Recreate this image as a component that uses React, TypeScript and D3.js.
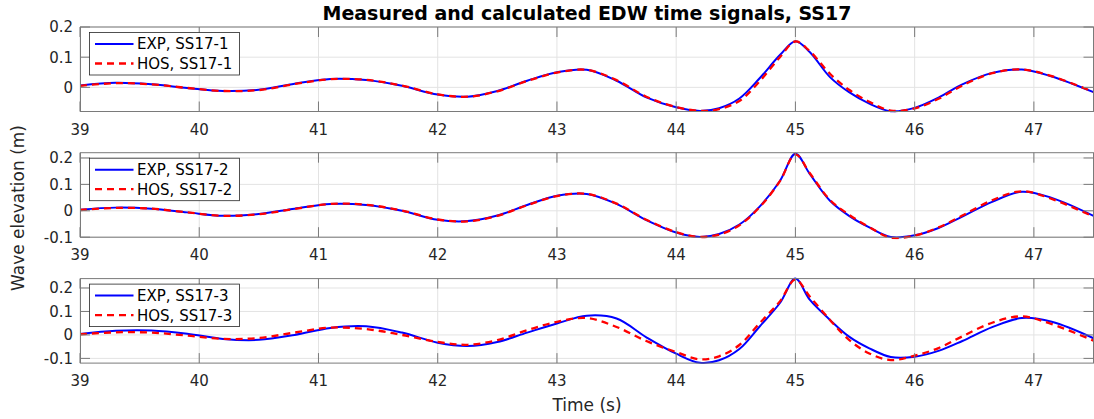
import React, { useEffect, useRef } from 'react';
import * as d3 from 'd3';

// sample times (s), shared by every series
const time = [39, 39.3, 39.6, 39.9, 40.2, 40.5, 40.8, 41.1, 41.4, 41.7, 42, 42.25, 42.5, 42.75, 43, 43.25, 43.5, 43.75, 44, 44.2, 44.36, 44.53, 44.7, 44.87, 45, 45.12, 45.29, 45.45, 45.62, 45.8, 46, 46.2, 46.4, 46.65, 46.9, 47.15, 47.5];

const exp1 = [0.006, 0.015, 0.01, -0.002, -0.012, -0.008, 0.012, 0.028, 0.024, 0.005, -0.024, -0.031, -0.012, 0.022, 0.05, 0.058, 0.022, -0.033, -0.066, -0.078, -0.069, -0.037, 0.03, 0.107, 0.153, 0.117, 0.034, -0.016, -0.054, -0.079, -0.068, -0.034, 0.01, 0.048, 0.059, 0.036, -0.016];
const hos1 = [0.005, 0.014, 0.01, -0.002, -0.012, -0.009, 0.011, 0.027, 0.025, 0.006, -0.023, -0.031, -0.013, 0.021, 0.049, 0.058, 0.024, -0.031, -0.065, -0.078, -0.072, -0.045, 0.02, 0.1, 0.152, 0.12, 0.045, -0.008, -0.048, -0.077, -0.07, -0.038, 0.006, 0.047, 0.059, 0.037, -0.015];

const exp2 = [0.004, 0.012, 0.008, -0.006, -0.019, -0.012, 0.008, 0.026, 0.022, 0.0, -0.034, -0.039, -0.018, 0.022, 0.057, 0.064, 0.026, -0.035, -0.082, -0.099, -0.088, -0.052, 0.016, 0.113, 0.216, 0.14, 0.038, -0.019, -0.063, -0.099, -0.093, -0.065, -0.022, 0.034, 0.072, 0.049, -0.019];
const hos2 = [0.003, 0.011, 0.008, -0.006, -0.019, -0.013, 0.007, 0.026, 0.023, 0.001, -0.033, -0.04, -0.019, 0.021, 0.056, 0.064, 0.027, -0.034, -0.081, -0.099, -0.09, -0.055, 0.014, 0.112, 0.214, 0.143, 0.041, -0.015, -0.062, -0.102, -0.094, -0.063, -0.018, 0.04, 0.074, 0.045, -0.022];

const exp3 = [0.004, 0.018, 0.019, 0.005, -0.017, -0.021, 0.0, 0.03, 0.037, 0.01, -0.033, -0.047, -0.03, 0.01, 0.049, 0.082, 0.07, -0.01, -0.08, -0.119, -0.108, -0.06, 0.036, 0.136, 0.24, 0.15, 0.064, -0.007, -0.057, -0.094, -0.093, -0.068, -0.026, 0.033, 0.072, 0.056, -0.014];
const hos3 = [0.003, 0.011, 0.01, -0.003, -0.017, -0.013, 0.01, 0.031, 0.025, 0.0, -0.03, -0.042, -0.022, 0.02, 0.056, 0.072, 0.034, -0.026, -0.073, -0.104, -0.091, -0.043, 0.05, 0.143, 0.236, 0.164, 0.064, -0.021, -0.079, -0.107, -0.088, -0.056, -0.006, 0.052, 0.079, 0.046, -0.024];

const xTicks = [39, 40, 41, 42, 43, 44, 45, 46, 47];
const gauges = ['SS17-1', 'SS17-2', 'SS17-3'];
const yDomains = [[-0.08, 0.2], [-0.1, 0.22], [-0.12, 0.24]];
const yTicks = [[0, 0.1, 0.2], [-0.1, 0, 0.1, 0.2], [-0.1, 0, 0.1, 0.2]];

const panels = [
  { exp: exp1, hos: hos1 },
  { exp: exp2, hos: hos2 },
  { exp: exp3, hos: hos3 },
];

const W = 1094;
const H = 419;
const left = 80;
const right = 1094;
const tops = [27, 152.7, 278.6];
const ph = 84.5;
const font = 'DejaVu Sans, sans-serif';
const ink = '#262626';

const App = () => {
  const svgRef = useRef(null);

  useEffect(() => {
    const svg = d3.select(svgRef.current);
    svg.selectAll('*').remove();

    const x = d3.scaleLinear().domain([39, 47.5]).range([left, right - 0.5]);

    panels.forEach((p, i) => {
      const top = tops[i];
      const y = d3.scaleLinear().domain(yDomains[i]).range([top + ph, top]);
      const g = svg.append('g');

      g.append('rect')
        .attr('x', left).attr('y', top)
        .attr('width', right - 0.5 - left).attr('height', ph)
        .attr('fill', '#fff');

      // grid
      g.selectAll('.gx').data(xTicks).enter().append('line')
        .attr('x1', d => x(d)).attr('x2', d => x(d))
        .attr('y1', top).attr('y2', top + ph)
        .attr('stroke', '#e3e3e3').attr('stroke-width', 1);
      g.selectAll('.gy').data(yTicks[i]).enter().append('line')
        .attr('x1', left).attr('x2', right - 0.5)
        .attr('y1', d => y(d)).attr('y2', d => y(d))
        .attr('stroke', '#e3e3e3').attr('stroke-width', 1);

      // lines
      const clipId = `clip${i}`;
      svg.append('clipPath').attr('id', clipId).append('rect')
        .attr('x', left).attr('y', top - 2)
        .attr('width', right - left).attr('height', ph + 4);

      const line = d3.line()
        .x(d => x(d[0]))
        .y(d => y(d[1]))
        .curve(d3.curveCatmullRom.alpha(0.5));

      g.append('path')
        .attr('d', line(time.map((t, k) => [t, p.exp[k]])))
        .attr('fill', 'none').attr('stroke', '#0000ff').attr('stroke-width', 2)
        .attr('clip-path', `url(#${clipId})`);
      g.append('path')
        .attr('d', line(time.map((t, k) => [t, p.hos[k]])))
        .attr('fill', 'none').attr('stroke', '#ff0000').attr('stroke-width', 2.3)
        .attr('stroke-dasharray', '7 5')
        .attr('clip-path', `url(#${clipId})`);

      // box
      g.append('rect')
        .attr('x', left + 0.5).attr('y', top)
        .attr('width', right - 1 - left).attr('height', ph)
        .attr('fill', 'none').attr('stroke', '#7a7a7a').attr('stroke-width', 1);

      // ticks (inside, both sides)
      const tl = 10;
      xTicks.forEach(t => {
        g.append('line').attr('x1', x(t)).attr('x2', x(t))
          .attr('y1', top + ph).attr('y2', top + ph - tl)
          .attr('stroke', '#7a7a7a');
        g.append('line').attr('x1', x(t)).attr('x2', x(t))
          .attr('y1', top).attr('y2', top + tl)
          .attr('stroke', '#7a7a7a');
        g.append('text')
          .attr('x', x(t)).attr('y', top + ph + 23)
          .attr('text-anchor', 'middle')
          .attr('font-family', font).attr('font-size', 15).attr('fill', ink)
          .text(t);
      });
      yTicks[i].forEach(t => {
        g.append('line').attr('x1', left).attr('x2', left + tl)
          .attr('y1', y(t)).attr('y2', y(t))
          .attr('stroke', '#7a7a7a');
        g.append('line').attr('x1', right - 0.5).attr('x2', right - 0.5 - tl)
          .attr('y1', y(t)).attr('y2', y(t))
          .attr('stroke', '#7a7a7a');
        g.append('text')
          .attr('x', 73).attr('y', y(t))
          .attr('dy', '0.36em')
          .attr('text-anchor', 'end')
          .attr('font-family', font).attr('font-size', 15).attr('fill', ink)
          .text(t === 0 ? '0' : d3.format('.1f')(t).replace('\u2212', '-'));
      });

      // legend
      const lx = 89.5;
      const ly = top + 5.5;
      const lg = g.append('g');
      lg.append('rect')
        .attr('x', lx).attr('y', ly).attr('width', 150).attr('height', 42.5)
        .attr('fill', '#fff').attr('stroke', '#262626').attr('stroke-width', 0.8);
      const rows = [
        { label: `EXP, ${gauges[i]}`, color: '#0000ff', dash: null, w: 2 },
        { label: `HOS, ${gauges[i]}`, color: '#ff0000', dash: '7 5', w: 2.3 },
      ];
      rows.forEach((r, k) => {
        const ry = ly + 11.5 + k * 19.5;
        lg.append('line')
          .attr('x1', lx + 5.5).attr('x2', lx + 44)
          .attr('y1', ry).attr('y2', ry)
          .attr('stroke', r.color).attr('stroke-width', r.w)
          .attr('stroke-dasharray', r.dash);
        lg.append('text')
          .attr('x', lx + 47.5).attr('y', ry)
          .attr('dy', '0.36em')
          .attr('font-family', font).attr('font-size', 15).attr('fill', '#000')
          .text(r.label);
      });
    });

    svg.append('text')
      .attr('x', (left + right) / 2).attr('y', 20)
      .attr('text-anchor', 'middle')
      .attr('font-family', font).attr('font-size', 19).attr('font-weight', 'bold')
      .attr('fill', '#000')
      .text('Measured and calculated EDW time signals, SS17');

    svg.append('text')
      .attr('x', (left + right) / 2).attr('y', 411)
      .attr('text-anchor', 'middle')
      .attr('font-family', font).attr('font-size', 17).attr('fill', ink)
      .text('Time (s)');

    svg.append('text')
      .attr('transform', 'translate(24,208) rotate(-90)')
      .attr('text-anchor', 'middle')
      .attr('font-family', font).attr('font-size', 17).attr('fill', ink)
      .text('Wave elevation (m)');
  }, []);

  return (
    <svg
      ref={svgRef}
      width={W}
      height={H}
      style={{ position: 'absolute', left: 0, top: 0, background: '#fff' }}
    />
  );
};

export default App;
